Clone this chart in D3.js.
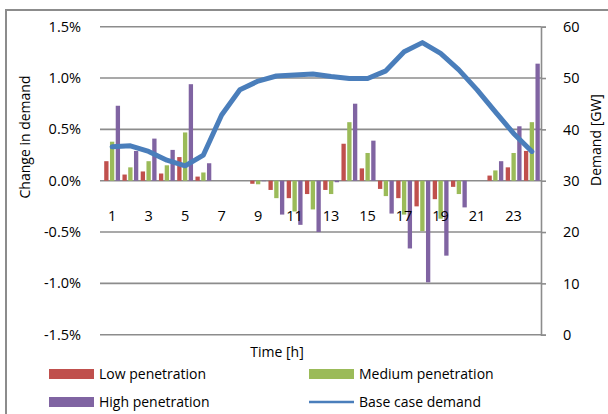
<!DOCTYPE html>
<html>
<head>
<meta charset="utf-8">
<script src="https://cdn.jsdelivr.net/npm/d3@7.9.0/dist/d3.min.js"></script>
<style>
  html, body { margin: 0; padding: 0; background: #fff; }
  svg { display: block; font-family: 'Open Sans', sans-serif; }
  text { fill: #000; }
</style>
</head>
<body>
<svg id="chart" width="608" height="414"></svg>
<script>
// hours 1..24
const hours = d3.range(1, 25);
const xLabels = [1, 3, 5, 7, 9, 11, 13, 15, 17, 19, 21, 23];

// change in demand (%)
const lowPen = [0.19, 0.06, 0.09, 0.07, 0.23, 0.04, 0, 0, -0.03, -0.09, -0.17, -0.13,
  -0.09, 0.36, 0.12, -0.08, -0.17, -0.25, -0.18, -0.06, 0, 0.05, 0.13, 0.29];
const medPen = [0.38, 0.13, 0.19, 0.15, 0.47, 0.08, 0, 0, -0.035, -0.17, -0.30, -0.28,
  -0.13, 0.57, 0.27, -0.15, -0.33, -0.49, -0.37, -0.13, 0, 0.10, 0.27, 0.57];
const highPen = [0.73, 0.29, 0.41, 0.30, 0.94, 0.17, 0, 0, -0.005, -0.33, -0.43, -0.50,
  -0.015, 0.75, 0.39, -0.32, -0.66, -0.99, -0.73, -0.26, 0, 0.19, 0.53, 1.14];

// base case demand (GW)
const baseDemand = [36.6, 36.8, 35.7, 34.0, 32.9, 35.0, 42.8, 47.7, 49.4, 50.4, 50.6, 50.8,
  50.3, 49.9, 49.9, 51.4, 55.1, 56.9, 54.8, 51.6, 47.7, 43.4, 39.2, 35.7];

const leftTicks = [-1.5, -1.0, -0.5, 0, 0.5, 1.0, 1.5];
const rightTicks = [0, 10, 20, 30, 40, 50, 60];

const seriesNames = ['Low penetration', 'Medium penetration', 'High penetration'];
const seriesVals = [lowPen, medPen, highPen];
const colors = ['#C0504D', '#9BBB59', '#8064A2'];
const lineColor = '#4A7EBB';
const gridColor = '#8c8c8c';

const svg = d3.select('#chart');

// outer frame
svg.append('rect')
  .attr('x', 6).attr('y', 10).attr('width', 640).attr('height', 440)
  .attr('fill', 'none').attr('stroke', '#8c8c8c').attr('stroke-width', 2);

const x = d3.scaleBand().domain(hours).range([103, 541]);
const xInner = d3.scaleBand().domain(d3.range(3)).range([0, x.bandwidth()])
  .paddingInner(0.25).paddingOuter(0.21);
const yL = d3.scaleLinear().domain([-1.5, 1.5]).range([334.7, 26.7]);
const yR = d3.scaleLinear().domain([0, 60]).range([334.7, 26.7]);

// gridlines + left ticks
svg.append('g').selectAll('line')
  .data(leftTicks).join('line')
  .attr('x1', 100).attr('x2', 541)
  .attr('y1', d => yL(d)).attr('y2', d => yL(d))
  .attr('stroke', gridColor).attr('stroke-width', 1.6);

// left tick labels (plain hyphen like the original)
const pct = d => d3.format('.1f')(d).replace('\u2212', '-') + '%';
svg.append('g').selectAll('text')
  .data(leftTicks).join('text')
  .attr('x', 81).attr('y', d => yL(d))
  .attr('dy', '0.35em').attr('text-anchor', 'end')
  .attr('font-size', 14.5)
  .text(pct);

// bars
const barG = svg.append('g');
seriesVals.forEach((vals, s) => {
  barG.selectAll('rect.s' + s)
    .data(hours).join('rect')
    .attr('class', 's' + s)
    .attr('x', h => x(h) + xInner(s))
    .attr('width', xInner.bandwidth())
    .attr('y', (h, i) => Math.min(yL(vals[i]), yL(0)))
    .attr('height', (h, i) => Math.abs(yL(vals[i]) - yL(0)))
    .attr('fill', colors[s]);
});

// base case demand line
const line = d3.line()
  .x((d, i) => x(hours[i]) + x.bandwidth() / 2)
  .y(d => yR(d));
svg.append('path')
  .datum(baseDemand)
  .attr('d', line)
  .attr('fill', 'none')
  .attr('stroke', lineColor)
  .attr('stroke-width', 5)
  .attr('stroke-linejoin', 'round')
  .attr('stroke-linecap', 'round');

// right axis
const rightAxis = d3.axisRight(yR).tickValues(rightTicks).tickSize(5).tickPadding(17);
const rg = svg.append('g')
  .attr('transform', 'translate(541,0)')
  .call(rightAxis);
rg.select('.domain').attr('stroke', gridColor).attr('stroke-width', 1.6);
rg.selectAll('.tick line').attr('stroke', gridColor).attr('stroke-width', 1.6);
rg.selectAll('.tick text').attr('font-size', 14.5).attr('font-family', "'Open Sans', sans-serif").attr('fill', '#000');

// x labels
svg.append('g').selectAll('text')
  .data(xLabels).join('text')
  .attr('x', d => x(d) + x.bandwidth() / 2)
  .attr('y', 216)
  .attr('dy', '0.35em').attr('text-anchor', 'middle')
  .attr('font-size', 14.5)
  .text(d => d);

// axis titles
svg.append('text')
  .attr('transform', 'translate(25,137) rotate(-90)')
  .attr('text-anchor', 'middle').attr('dy', '0.35em')
  .attr('font-size', 14)
  .text('Change in demand');
svg.append('text')
  .attr('transform', 'translate(596,140) rotate(-90)')
  .attr('text-anchor', 'middle').attr('dy', '0.35em')
  .attr('font-size', 14)
  .text('Demand [GW]');
svg.append('text')
  .attr('x', 277).attr('y', 352)
  .attr('text-anchor', 'middle').attr('dy', '0.35em')
  .attr('font-size', 14)
  .text('Time [h]');

// legend
const legendItems = [
  { name: seriesNames[0], color: colors[0], type: 'rect', x: 49, y: 374 },
  { name: seriesNames[1], color: colors[1], type: 'rect', x: 309, y: 374 },
  { name: seriesNames[2], color: colors[2], type: 'rect', x: 49, y: 402 },
  { name: 'Base case demand', color: lineColor, type: 'line', x: 309, y: 402 }
];
const lg = svg.append('g').selectAll('g')
  .data(legendItems).join('g')
  .attr('transform', d => `translate(${d.x},${d.y})`);
lg.filter(d => d.type === 'rect').append('rect')
  .attr('x', 0).attr('y', -5).attr('width', 45).attr('height', 10)
  .attr('fill', d => d.color);
lg.filter(d => d.type === 'line').append('line')
  .attr('x1', 0).attr('x2', 45).attr('y1', 0).attr('y2', 0)
  .attr('stroke', d => d.color).attr('stroke-width', 2.5);
lg.append('text')
  .attr('x', 50).attr('dy', '0.35em')
  .attr('font-size', 14)
  .text(d => d.name);
</script>
</body>
</html>
